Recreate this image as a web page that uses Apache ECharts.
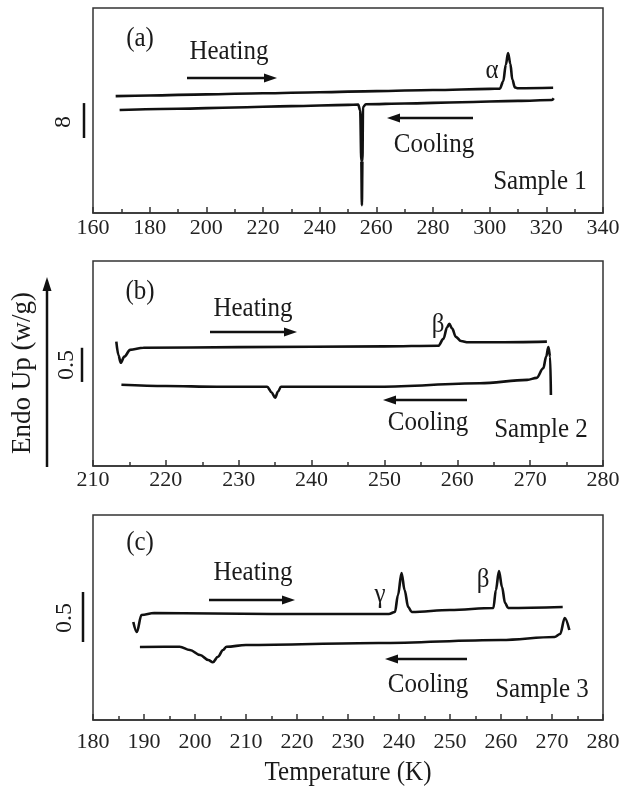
<!DOCTYPE html>
<html>
<head>
<meta charset="utf-8">
<script src="https://cdn.jsdelivr.net/npm/echarts@6/dist/echarts.min.js"></script>
<style>
html, body { margin: 0; padding: 0; background: #fff; }
#dsc_chart { width: 625px; height: 794px; }
</style>
</head>
<body>
<div id="dsc_chart"></div>
<script>
// DSC curves, three samples. x = temperature (K), y = heat flow (W/g, offset)
var heatingA = [[168,26.8],[180,26.95],[200,27.2],[220,27.45],[240,27.7],[260,27.95],[280,28.2],[300,28.45],
    [303.6,28.5],[304.8,30.2],[305.7,34],[306.5,36.7],[307.3,34.2],[308,30.6],[308.9,28.8],[310,28.6],[322.4,28.7]];
var coolingA = [[169.4,23.6],[190,23.9],[210,24.2],[230,24.5],[250,24.8],[253.6,24.85],[254.3,23.5],[254.7,12],
    [254.9,1.8],[255.1,12],[255.3,24.3],[256.3,24.95],[270,25.1],[290,25.4],[310,25.7],[322,25.9],[322.6,26.3]];

var heatingB = [[213.2,1.82],[213.5,1.62],[213.8,1.51],[214.3,1.6],[215.1,1.70],[216.9,1.73],[230,1.74],[250,1.75],
    [257.4,1.76],[258.1,1.86],[258.6,2.03],[258.9,2.08],[259.3,2.01],[259.8,1.89],[260.5,1.83],[261.5,1.81],[265,1.81],[272.3,1.82]];
var coolingB = [[213.9,1.19],[220,1.17],[227,1.16],[233.9,1.16],[234.5,1.08],[235.0,1.0],[235.4,1.09],[235.8,1.16],
    [249.4,1.16],[263.1,1.21],[269.6,1.26],[270.9,1.29],[271.8,1.43],[272.2,1.6],[272.5,1.74],[272.75,1.6],[272.85,1.04]];

var heatingC = [[187.9,0.98],[188.6,0.88],[189.5,1.05],[192,1.07],[215,1.06],[238,1.06],[239.2,1.08],[239.8,1.25],
    [240.5,1.47],[241.1,1.3],[241.8,1.13],[242.5,1.08],[250,1.10],[258.5,1.12],[259.0,1.3],[259.6,1.49],[260.2,1.33],
    [260.8,1.17],[261.4,1.12],[272.1,1.13]];
var coolingC = [[189.2,0.73],[197,0.733],[199,0.70],[201,0.65],[202.6,0.60],[203.5,0.577],[204.5,0.633],[205.5,0.70],
    [206.2,0.733],[210,0.75],[236,0.77],[260,0.80],[270.5,0.83],[271.6,0.86],[272.5,1.02],[273.4,0.90]];

// axis ranges: [min, max, label interval]
var xRanges = [[160, 340, 20], [210, 280, 10], [180, 280, 10]];
var yRanges = [[0, 47], [0, 3], [0, 2.05]];
// scale bars on the left: size and where the bar starts (W/g)
var scaleBars = [8, 0.5, 0.5];
var scaleLabels = ['8', '0.5', '0.5'];
var scaleBase = [17.2, 1.23, 0.78];

var gridTops = [8, 261, 515];
var labelMargins = [4, 3, 11];
var serif = '"Liberation Serif", "Times New Roman", serif';
var ink = '#111';

var myChart = echarts.init(document.getElementById('dsc_chart'));

function makeSeries(data, i) {
    return {
        type: 'line',
        xAxisIndex: i,
        yAxisIndex: i,
        data: data,
        showSymbol: false,
        smooth: 0.35,
        smoothMonotone: 'x',
        lineStyle: { color: ink, width: 2.6 },
        silent: true
    };
}

var grids = [], xAxes = [], yAxes = [];
for (var i = 0; i < 3; i++) {
    grids.push({
        left: 93, top: gridTops[i], width: 510, height: 205,
        show: true, borderColor: '#333', borderWidth: 1.5,
        containLabel: false, outerBoundsMode: 'none'
    });
    xAxes.push({
        type: 'value', gridIndex: i,
        min: xRanges[i][0], max: xRanges[i][1], interval: xRanges[i][2],
        axisLine: { show: true, lineStyle: { color: '#333', width: 1.5 } },
        axisTick: { show: true, inside: true, length: 6, lineStyle: { color: '#333', width: 1.5 } },
        minorTick: { show: true, splitNumber: 2, length: 4, lineStyle: { color: '#333', width: 1.5 } },
        splitLine: { show: false },
        axisLabel: { color: '#222', fontFamily: serif, fontSize: 22, margin: labelMargins[i],
            showMinLabel: true, showMaxLabel: true }
    });
    yAxes.push({
        type: 'value', gridIndex: i, show: false,
        min: yRanges[i][0], max: yRanges[i][1],
        splitLine: { show: false }
    });
}

myChart.setOption({
    animation: false,
    backgroundColor: '#fff',
    grid: grids,
    xAxis: xAxes,
    yAxis: yAxes,
    series: [
        makeSeries(heatingA, 0), makeSeries(coolingA, 0),
        makeSeries(heatingB, 1), makeSeries(coolingB, 1),
        makeSeries(heatingC, 2), makeSeries(coolingC, 2)
    ]
});

// annotations
var notes = [
    ['(a)', 140, 39], ['Heating', 229, 52], ['\u03b1', 492, 71], ['Cooling', 434, 145], ['Sample 1', 540, 182],
    ['(b)', 140, 292], ['Heating', 253, 309], ['\u03b2', 438, 325], ['Cooling', 428, 423], ['Sample 2', 541, 430],
    ['(c)', 140, 543], ['Heating', 253, 573], ['\u03b3', 380, 595], ['\u03b2', 483, 580], ['Cooling', 428, 685], ['Sample 3', 542, 690]
];
// arrows: [from x, to x, y]
var arrows = [[187, 277, 78], [473, 387, 118], [210, 297, 332], [467, 383, 400], [209, 295, 600], [467, 385, 659]];
var scaleX = [84, 82, 83];
var scaleLabelPos = [[64, 122], [67, 365], [65, 618]];

var graphics = [];
notes.forEach(function (n) {
    graphics.push({
        type: 'text', x: n[1], y: n[2], scaleY: 1.12, silent: true,
        style: { text: n[0], fill: '#1a1a1a', font: '25px ' + serif, align: 'center', verticalAlign: 'middle' }
    });
});
arrows.forEach(function (a) {
    var dir = a[1] > a[0] ? 1 : -1;
    graphics.push({
        type: 'line', silent: true,
        shape: { x1: a[0], y1: a[2], x2: a[1] - dir * 8, y2: a[2] },
        style: { stroke: ink, lineWidth: 2.5 }
    });
    graphics.push({
        type: 'polygon', silent: true,
        shape: { points: [[a[1], a[2]], [a[1] - dir * 13, a[2] - 4.5], [a[1] - dir * 13, a[2] + 4.5]] },
        style: { fill: ink }
    });
});
for (var k = 0; k < 3; k++) {
    var y1 = myChart.convertToPixel({ yAxisIndex: k }, scaleBase[k]);
    var y2 = myChart.convertToPixel({ yAxisIndex: k }, scaleBase[k] + scaleBars[k]);
    graphics.push({
        type: 'line', silent: true,
        shape: { x1: scaleX[k], y1: y1, x2: scaleX[k], y2: y2 },
        style: { stroke: ink, lineWidth: 2.5 }
    });
    graphics.push({
        type: 'text', x: scaleLabelPos[k][0], y: scaleLabelPos[k][1], rotation: Math.PI / 2, silent: true,
        style: { text: scaleLabels[k], fill: '#1a1a1a', font: '24px ' + serif, align: 'center', verticalAlign: 'middle' }
    });
}
// y title with its arrow
graphics.push({
    type: 'text', x: 23, y: 373, rotation: Math.PI / 2, silent: true,
    style: { text: 'Endo Up (w/g)', fill: '#1a1a1a', font: '27px ' + serif, align: 'center', verticalAlign: 'middle' }
});
graphics.push({
    type: 'line', silent: true,
    shape: { x1: 47, y1: 467, x2: 47, y2: 288 },
    style: { stroke: ink, lineWidth: 2.5 }
});
graphics.push({
    type: 'polygon', silent: true,
    shape: { points: [[47, 277], [42.5, 291], [51.5, 291]] },
    style: { fill: ink }
});
graphics.push({
    type: 'text', x: 348, y: 773, scaleY: 1.12, silent: true,
    style: { text: 'Temperature (K)', fill: '#1a1a1a', font: '25px ' + serif, align: 'center', verticalAlign: 'middle' }
});

myChart.setOption({ graphic: graphics });
</script>
</body>
</html>
